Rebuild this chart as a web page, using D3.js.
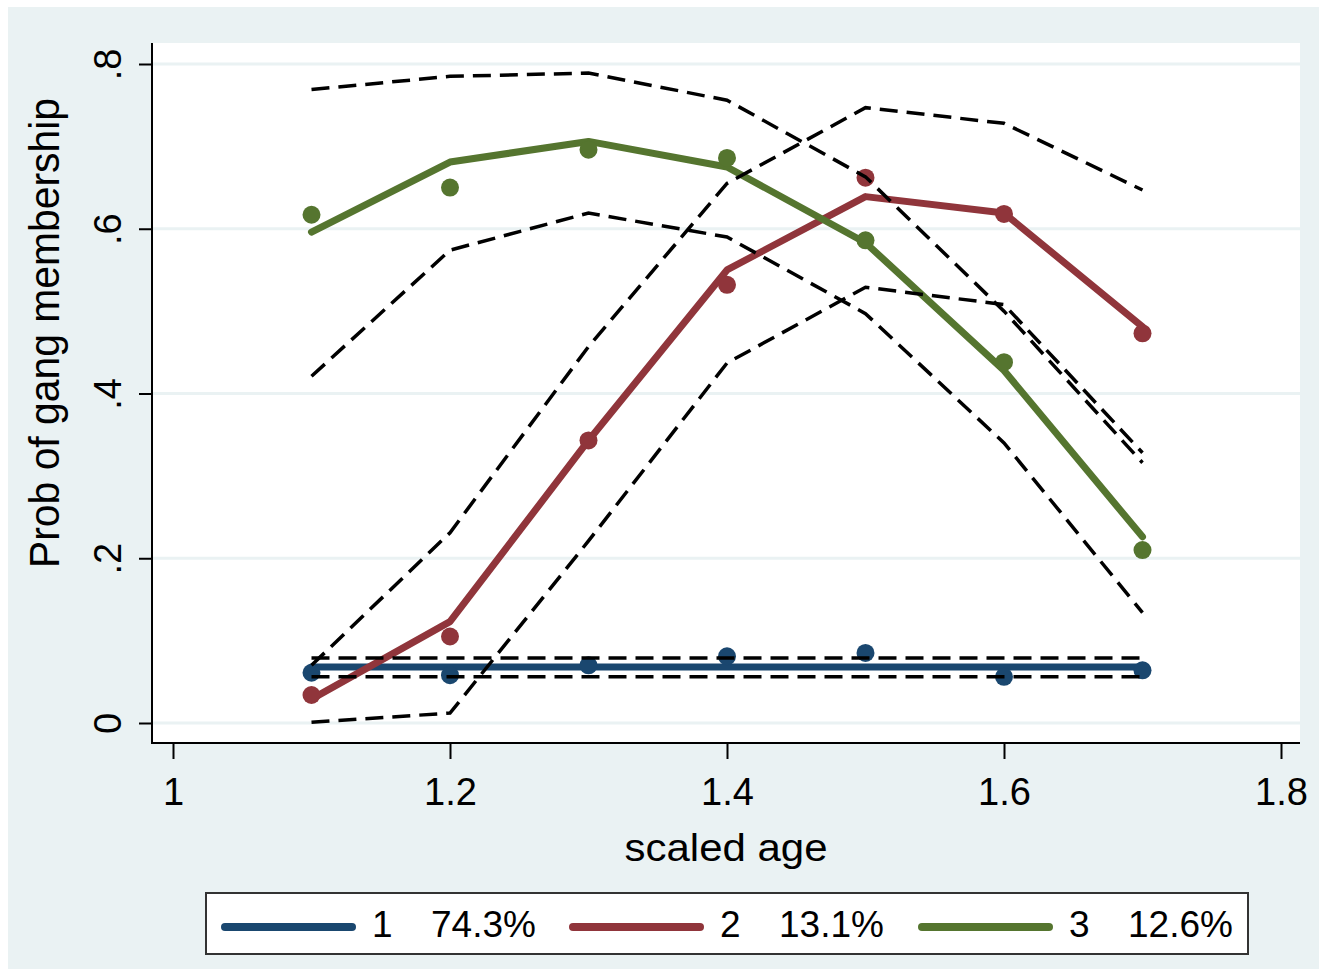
<!DOCTYPE html>
<html>
<head>
<meta charset="utf-8">
<script src="https://cdn.jsdelivr.net/npm/d3@7"></script>
<style>
  body { margin: 0; background: #ffffff; }
  text { font-family: "Liberation Sans", Arial, sans-serif; fill: #000; }
</style>
</head>
<body>
<svg id="main_view_svg" width="1319" height="969"></svg>
<script>

// DATA

var ages = [1.1, 1.2, 1.3, 1.4, 1.5, 1.6, 1.7];

// group 1 (74.3%)
var fit_1 = [0.068, 0.068, 0.068, 0.068, 0.068, 0.068, 0.068];
var obs_1 = [0.061, 0.058, 0.070, 0.081, 0.085, 0.056, 0.064];
var lo_1  = [0.056, 0.056, 0.056, 0.056, 0.056, 0.056, 0.056];
var hi_1  = [0.079, 0.079, 0.079, 0.079, 0.079, 0.079, 0.079];

// group 2 (13.1%)
var fit_2 = [0.029, 0.123, 0.343, 0.550, 0.639, 0.619, 0.481];
var obs_2 = [0.034, 0.105, 0.343, 0.532, 0.662, 0.618, 0.473];
var lo_2  = [0.001, 0.012, 0.221, 0.437, 0.529, 0.508, 0.328];
var hi_2  = [0.070, 0.231, 0.457, 0.655, 0.747, 0.728, 0.647];

// group 3 (12.6%)
var fit_3 = [0.596, 0.681, 0.706, 0.675, 0.583, 0.428, 0.226];
var obs_3 = [0.617, 0.650, 0.696, 0.686, 0.586, 0.438, 0.210];
var lo_3  = [0.421, 0.574, 0.619, 0.590, 0.497, 0.340, 0.134];
var hi_3  = [0.769, 0.785, 0.789, 0.756, 0.663, 0.500, 0.316];

var group_names  = ["1", "2", "3"];
var group_shares = ["74.3%", "13.1%", "12.6%"];
var group_colors = ["#1a476f", "#90353b", "#55752f"];

var x_ticks = [1, 1.2, 1.4, 1.6, 1.8];
var x_tick_labels = ["1", "1.2", "1.4", "1.6", "1.8"];
var y_ticks = [0, 0.2, 0.4, 0.6, 0.8];
var y_tick_labels = ["0", ".2", ".4", ".6", ".8"];

var groups = [
  {fit: fit_1, obs: obs_1, lo: lo_1, hi: hi_1},
  {fit: fit_2, obs: obs_2, lo: lo_2, hi: hi_2},
  {fit: fit_3, obs: obs_3, lo: lo_3, hi: hi_3}
];

// LAYOUT

var plot = {left: 152, right: 1300, top: 43, bottom: 743};

var svg = d3.select("#main_view_svg");

var x = d3.scaleLinear().domain([1, 1.8]).range([173, 1281]);
var y = d3.scaleLinear().domain([0, 0.8]).range([723, 64]);

// graph region + plot region
svg.append("rect")
  .attr("x", 8).attr("y", 7)
  .attr("width", 1319 - 8).attr("height", 969 - 7)
  .attr("fill", "#eaf2f3");

svg.append("rect")
  .attr("x", plot.left).attr("y", plot.top)
  .attr("width", plot.right - plot.left).attr("height", plot.bottom - plot.top)
  .attr("fill", "#ffffff");

// grid
svg.append("g").selectAll("line")
  .data(y_ticks)
  .enter().append("line")
    .attr("x1", plot.left).attr("x2", plot.right)
    .attr("y1", function(d){ return y(d); })
    .attr("y2", function(d){ return y(d); })
    .attr("stroke", "#eaf2f3")
    .attr("stroke-width", 3);

// AXES

var x_axis = d3.axisBottom(x)
  .tickValues(x_ticks)
  .tickSize(16)
  .tickPadding(17)
  .tickFormat(function(d, i){ return x_tick_labels[i]; });

var gx = svg.append("g")
  .attr("transform", "translate(0," + plot.bottom + ")")
  .call(x_axis);
gx.select(".domain").remove();
gx.append("line")
  .attr("x1", plot.left - 1).attr("x2", plot.right)
  .attr("stroke", "#000").attr("stroke-width", 2);
gx.selectAll(".tick line").attr("stroke", "#000").attr("stroke-width", 2);
gx.selectAll(".tick text")
  .style("font-size", "38px")
  .style("font-family", "'Liberation Sans', Arial, sans-serif")
  .attr("fill", "#000")
  .attr("dy", "0.75em");

var y_axis = d3.axisLeft(y)
  .tickValues(y_ticks)
  .tickSize(13)
  .tickFormat(function(d, i){ return y_tick_labels[i]; });

var gy = svg.append("g")
  .attr("transform", "translate(" + plot.left + ",0)")
  .call(y_axis);
gy.select(".domain").remove();
gy.append("line")
  .attr("y1", plot.top).attr("y2", plot.bottom + 1)
  .attr("stroke", "#000").attr("stroke-width", 2);
gy.selectAll(".tick line").attr("stroke", "#000").attr("stroke-width", 2);
gy.selectAll(".tick text")
  .attr("x", 0).attr("y", 0).attr("dy", 0)
  .attr("transform", "translate(-31,0) rotate(-90)")
  .attr("text-anchor", "middle")
  .attr("fill", "#000")
  .style("font-size", "38px")
  .style("font-family", "'Liberation Sans', Arial, sans-serif");

// axis titles
svg.append("text")
  .attr("x", 726).attr("y", 861)
  .attr("text-anchor", "middle")
  .attr("textLength", 203)
  .attr("lengthAdjust", "spacingAndGlyphs")
  .style("font-size", "38px")
  .text("scaled age");

svg.append("text")
  .attr("transform", "translate(59,333) rotate(-90)")
  .attr("text-anchor", "middle")
  .attr("textLength", 470)
  .attr("lengthAdjust", "spacingAndGlyphs")
  .style("font-size", "42px")
  .text("Prob of gang membership");

// MARKS

var line = function(vals){
  return d3.line()
    .x(function(d, i){ return x(ages[i]); })
    .y(function(d){ return y(d); })(vals);
};

// fitted lines
groups.forEach(function(g, k){
  svg.append("path")
    .attr("d", line(g.fit))
    .attr("fill", "none")
    .attr("stroke", group_colors[k])
    .attr("stroke-width", 7)
    .attr("stroke-linecap", "round")
    .attr("stroke-linejoin", "round");
});

// observed points
groups.forEach(function(g, k){
  svg.append("g").selectAll("circle")
    .data(g.obs)
    .enter().append("circle")
      .attr("cx", function(d, i){ return x(ages[i]); })
      .attr("cy", function(d){ return y(d); })
      .attr("r", 9)
      .attr("fill", group_colors[k]);
});

// confidence bands
groups.forEach(function(g){
  [g.lo, g.hi].forEach(function(vals){
    svg.append("path")
      .attr("d", line(vals))
      .attr("fill", "none")
      .attr("stroke", "#000")
      .attr("stroke-width", 3.5)
      .attr("stroke-dasharray", "18,9");
  });
});

// LEGEND

var legend = svg.append("g");
legend.append("rect")
  .attr("x", 206).attr("y", 893)
  .attr("width", 1042).attr("height", 61)
  .attr("fill", "#ffffff")
  .attr("stroke", "#333")
  .attr("stroke-width", 2);

var key_x = [225, 573, 922];
group_names.forEach(function(name, k){
  legend.append("line")
    .attr("x1", key_x[k]).attr("x2", key_x[k] + 127)
    .attr("y1", 927).attr("y2", 927)
    .attr("stroke", group_colors[k])
    .attr("stroke-width", 8)
    .attr("stroke-linecap", "round");
  legend.append("text")
    .attr("x", key_x[k] + 147).attr("y", 937)
    .style("font-size", "37px")
    .text(name);
  legend.append("text")
    .attr("x", key_x[k] + 206).attr("y", 937)
    .style("font-size", "37px")
    .text(group_shares[k]);
});

</script>
</body>
</html>
